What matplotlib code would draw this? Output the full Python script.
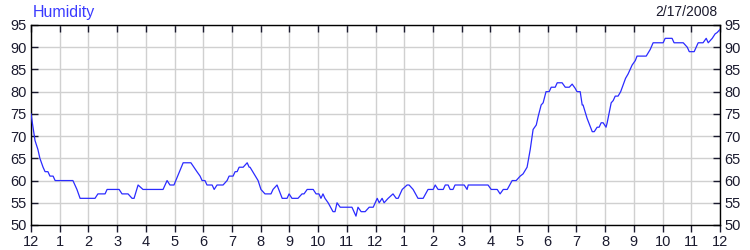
import numpy as np
import matplotlib
matplotlib.use("Agg")
import matplotlib.pyplot as plt
import matplotlib.lines as mlines

plt.rcParams["font.family"] = ["Liberation Sans", "DejaVu Sans"]

# readings: hour of day (0 = midnight) and relative humidity (%)
hours = [
    0.00, 0.07, 0.14, 0.24, 0.31, 0.42, 0.49, 0.59, 0.66, 0.77, 0.84, 1.46, 1.60, 1.71,
    2.23, 2.33, 2.58, 2.65, 3.07, 3.17, 3.38, 3.52, 3.59, 3.73, 3.90, 4.60, 4.74, 4.84,
    4.98, 5.30, 5.57, 5.78, 5.89, 5.96, 6.06, 6.13, 6.31, 6.38, 6.48, 6.69, 6.83, 6.90,
    7.04, 7.11, 7.18, 7.25, 7.39, 7.53, 7.60, 7.63, 7.91, 8.01, 8.15, 8.36, 8.43, 8.57,
    8.75, 8.92, 8.99, 9.09, 9.30, 9.44, 9.51, 9.62, 9.83, 9.93, 10.03, 10.10, 10.17,
    10.24, 10.35, 10.52, 10.59, 10.66, 10.77, 11.18, 11.32, 11.39, 11.50, 11.64, 11.78,
    11.92, 12.06, 12.13, 12.23, 12.30, 12.44, 12.61, 12.72, 12.79, 12.93, 13.10, 13.17,
    13.31, 13.48, 13.66, 13.83, 14.01, 14.08, 14.18, 14.36, 14.43, 14.53, 14.60, 14.70,
    14.77, 15.09, 15.19, 15.23, 15.92, 16.03, 16.24, 16.34, 16.45, 16.59, 16.76, 16.90,
    17.04, 17.14, 17.28, 17.39, 17.49, 17.60, 17.67, 17.77, 17.84, 17.94, 18.05, 18.12,
    18.26, 18.33, 18.50, 18.61, 18.75, 18.85, 18.95, 19.02, 19.13, 19.20, 19.23, 19.37,
    19.55, 19.62, 19.72, 19.79, 19.86, 19.93, 20.03, 20.07, 20.21, 20.28, 20.35, 20.45,
    20.54, 20.71, 20.80, 20.94, 21.05, 21.11, 21.43, 21.57, 21.67, 22.02, 22.09, 22.33,
    22.40, 22.72, 22.86, 22.93, 23.10, 23.24, 23.41, 23.52, 23.59, 23.73, 23.83, 23.90,
    24.00,
]
humidity = [
    75, 72, 69, 67, 65, 63, 62, 62, 61, 61, 60, 60, 58, 56,
    56, 57, 57, 58, 58, 57, 57, 56, 56, 59, 58, 58, 60, 59,
    59, 64, 64, 62, 61, 60, 60, 59, 59, 58, 59, 59, 60, 61,
    61, 62, 62, 63, 63, 64, 63, 63, 60, 58, 57, 57, 58, 59,
    56, 56, 57, 56, 56, 57, 57, 58, 58, 57, 57, 56, 57,
    56, 55, 53, 53, 55, 54, 54, 52, 54, 53, 53, 54,
    54, 56, 55, 56, 55, 56, 57, 56, 56, 58, 59, 59,
    58, 56, 56, 58, 58, 59, 58, 58, 59, 59, 58, 58,
    59, 59, 58, 59, 59, 58, 58, 57, 58, 58, 60, 60,
    61, 61.5, 63, 67, 71.5, 72.5, 74.5, 77, 77.5, 80, 80, 81,
    81, 82, 82, 81, 81, 81.7, 80.8, 80, 80, 77, 77, 74,
    71, 71, 72, 72, 73, 73, 72, 73, 77.5, 78, 79, 79,
    80, 83, 84, 86, 87, 88, 88, 89.5, 91, 91, 92, 92,
    91, 91, 90, 89, 89, 91, 91, 92, 91, 92, 93, 93.3,
    94,
]
hour_labels = ["12"] + [str(h) for h in range(1, 12)] + ["12"] + [str(h) for h in range(1, 12)] + ["12"]
y_ticks = list(range(50, 100, 5))

fig = plt.figure(figsize=(7.5, 2.5), dpi=100)
ax = fig.add_axes([31 / 750, 25 / 250, 689 / 750, 200 / 250])

ax.plot(hours, humidity, color="#2b2bff", lw=0.9, zorder=3)

ax.set_xlim(0, 24)
ax.set_ylim(50, 95)
ax.set_xticks(range(len(hour_labels)))
ax.set_xticklabels(hour_labels)
ax.set_yticks(y_ticks)
ax.grid(True, color="#d0d0d0", lw=1.0, zorder=0)
ax.set_axisbelow(True)

for s in ax.spines.values():
    s.set_color("black")
    s.set_linewidth(1.0)

# x ticks: inward on top, outward at bottom
ax.tick_params(axis="x", direction="in", length=5, width=1, pad=7,
               top=True, bottom=True, labelsize=10.5, colors="#1a1a2e")
for t in ax.xaxis.get_major_ticks():
    t.tick1line.set_marker(mlines.TICKDOWN)
    t.tick1line.set_color("black")
    t.tick2line.set_color("black")
ax.tick_params(axis="y", direction="in", length=5, width=1, pad=3,
               left=True, right=True, labelleft=True, labelright=True,
               labelsize=10.5, colors="#1a1a2e")
for t in ax.yaxis.get_major_ticks():
    t.tick1line.set_color("black")
    t.tick2line.set_color("black")

fig.text(33 / 750, 1 - 12 / 250, "Humidity", color="#3a3aff", fontsize=11.5,
         ha="left", va="center")
fig.text(717 / 750, 1 - 12 / 250, "2/17/2008", color="#1a1a2e", fontsize=10,
         ha="right", va="center")

fig.savefig("out.png", dpi=100)
